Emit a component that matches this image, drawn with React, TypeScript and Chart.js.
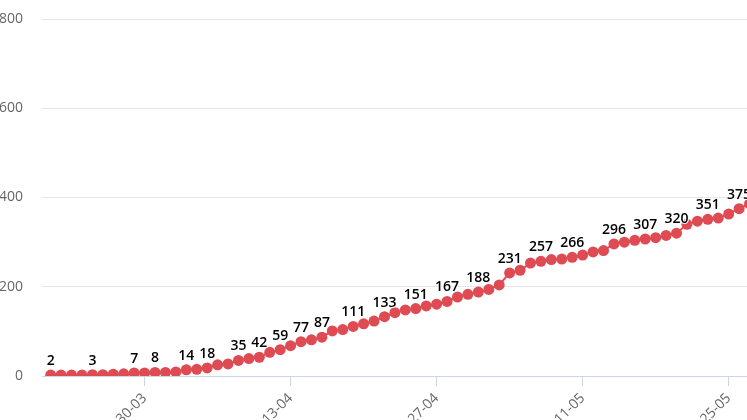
import React, { useEffect, useRef } from 'react';
import { Chart, registerables } from 'chart.js';

Chart.register(...registerables);

const dates = [
  '21-03', '22-03', '23-03', '24-03', '25-03', '26-03', '27-03', '28-03', '29-03', '30-03', '31-03',
  '01-04', '02-04', '03-04', '04-04', '05-04', '06-04', '07-04', '08-04', '09-04', '10-04',
  '11-04', '12-04', '13-04', '14-04', '15-04', '16-04', '17-04', '18-04', '19-04', '20-04',
  '21-04', '22-04', '23-04', '24-04', '25-04', '26-04', '27-04', '28-04', '29-04', '30-04',
  '01-05', '02-05', '03-05', '04-05', '05-05', '06-05', '07-05', '08-05', '09-05', '10-05',
  '11-05', '12-05', '13-05', '14-05', '15-05', '16-05', '17-05', '18-05', '19-05', '20-05',
  '21-05', '22-05', '23-05', '24-05', '25-05', '26-05', '27-05',
];

const values = [
  2, 2, 2, 2, 3, 3, 4, 5, 7, 7,
  8, 8, 9, 14, 15, 18, 25, 27, 35, 39,
  42, 53, 59, 68, 77, 81, 87, 101, 104, 111,
  117, 123, 133, 142, 148, 151, 157, 161, 167, 177,
  183, 188, 194, 204, 231, 237, 253, 257, 261, 262,
  266, 271, 278, 281, 296, 300, 304, 307, 310, 315,
  320, 340, 347, 351, 354, 363, 375, 386,
];

const labeledIdx = [0, 4, 8, 10, 13, 15, 18, 20, 22, 24, 26, 29, 32, 35, 38, 41, 44, 47, 50, 54, 57, 60, 63, 66];
const xTickIdx = [9, 23, 37, 51, 65];
const yTickValues = [0, 200, 400, 600, 800];

const LINE_COLOR = '#df4b52';
const FONT = '"Open Sans", "Noto Sans", sans-serif';

export default function App() {
  const ref = useRef<HTMLCanvasElement>(null);

  useEffect(() => {
    if (!ref.current) return;
    const labelPlugin = {
      id: 'pointLabels',
      afterDatasetsDraw(chart: any) {
        const ctx = chart.ctx;
        const meta = chart.getDatasetMeta(0);
        ctx.save();
        ctx.font = '600 14px ' + FONT;
        ctx.textAlign = 'center';
        ctx.textBaseline = 'alphabetic';
        ctx.lineJoin = 'round';
        labeledIdx.forEach((i) => {
          const el = meta.data[i];
          if (!el) return;
          const text = String(values[i]);
          ctx.lineWidth = 2;
          ctx.strokeStyle = '#ffffff';
          ctx.strokeText(text, el.x, el.y - 10);
          ctx.fillStyle = '#000000';
          ctx.fillText(text, el.x, el.y - 10);
        });
        ctx.restore();
      },
    };

    const chart = new Chart(ref.current, {
      type: 'line',
      data: {
        datasets: [
          {
            data: values.map((v, i) => ({ x: i, y: v })),
            borderColor: LINE_COLOR,
            backgroundColor: LINE_COLOR,
            pointBackgroundColor: LINE_COLOR,
            pointBorderColor: LINE_COLOR,
            pointRadius: 5.5,
            pointBorderWidth: 0,
            pointHoverRadius: 5.5,
            borderWidth: 2,
            tension: 0,
          },
        ],
      },
      options: {
        responsive: false,
        animation: false,
        layout: { autoPadding: false, padding: { top: 19, left: 0, right: 0, bottom: 0 } },
        plugins: {
          legend: { display: false },
          tooltip: { enabled: false },
        },
        scales: {
          x: {
            type: 'linear',
            min: -0.834,
            max: 69.92,
            afterBuildTicks: (s: any) => {
              s.ticks = xTickIdx.map((v) => ({ value: v }));
            },
            afterFit: (s: any) => {
              s.height = 64;
              s.paddingLeft = 0;
              s.paddingRight = 0;
            },
            ticks: {
              autoSkip: false,
              minRotation: 45,
              maxRotation: 45,
              padding: 4,
              color: '#666666',
              font: { family: FONT, size: 14 },
              callback: (v: any) => dates[v as number],
            },
            grid: {
              drawOnChartArea: false,
              drawTicks: true,
              tickLength: 10,
              color: '#ccd6eb',
            },
            border: { color: '#ccd6eb', width: 1 },
          },
          y: {
            min: 0,
            max: 800,
            afterBuildTicks: (s: any) => {
              s.ticks = yTickValues.map((v) => ({ value: v }));
            },
            afterFit: (s: any) => {
              s.width = 42;
              s.paddingTop = 0;
              s.paddingBottom = 0;
            },
            ticks: {
              padding: 19,
              color: '#666666',
              font: { family: FONT, size: 14 },
            },
            grid: { color: '#e6e6e6', drawTicks: false },
            border: { display: false },
          },
        },
      },
      plugins: [labelPlugin],
    } as any);

    return () => chart.destroy();
  }, []);

  return (
    <div style={{ position: 'fixed', inset: 0, overflow: 'hidden', background: '#ffffff' }}>
      <canvas
        ref={ref}
        width={780}
        height={440}
        style={{ position: 'absolute', left: 0, top: 0, width: 780, height: 440 }}
      />
    </div>
  );
}
